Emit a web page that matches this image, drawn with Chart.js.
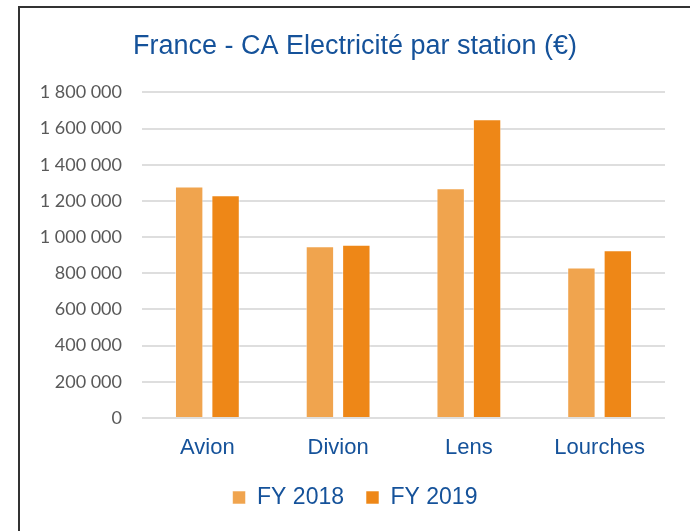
<!DOCTYPE html>
<html>
<head>
<meta charset="utf-8">
<script src="https://cdn.jsdelivr.net/npm/chart.js@4"></script>
<style>
  html,body{margin:0;padding:0;background:#fff;}
  body{width:690px;height:531px;overflow:hidden;position:relative;}
  #frame{position:absolute;left:18px;top:6px;width:700px;height:560px;border-left:2px solid #333;border-top:2px solid #333;}
  #wrap{position:absolute;left:20px;top:8px;width:670px;height:523px;}
</style>
</head>
<body>
<div id="frame"></div>
<div id="wrap"><canvas id="c"></canvas></div>
<script>
// values
const stations = ['Avion','Divion','Lens','Lourches'];
const fy2018 = [1280000, 950000, 1270000, 832000];
const fy2019 = [1232000, 958000, 1652000, 928000];
const yTicks = [0,200000,400000,600000,800000,1000000,1200000,1400000,1600000,1800000];

const blue = '#15529a';
function fmt(v){ return String(v).replace(/\B(?=(\d{3})+(?!\d))/g,' '); }

new Chart(document.getElementById('c'), {
  type:'bar',
  data:{
    labels:stations,
    datasets:[
      {label:'FY 2018', data:fy2018, backgroundColor:'#f0a44e', borderColor:'rgba(255,255,255,0.55)', borderWidth:1},
      {label:'FY 2019', data:fy2019, backgroundColor:'#ee8717', borderColor:'rgba(255,255,255,0.55)', borderWidth:1}
    ]
  },
  options:{
    responsive:true,
    maintainAspectRatio:false,
    animation:false,
    layout:{padding:{left:0,right:0,top:0,bottom:12}},
    datasets:{bar:{categoryPercentage:0.557, barPercentage:0.78}},
    scales:{
      x:{
        grid:{display:false},
        border:{display:false},
        ticks:{color:blue, font:{family:'Liberation Sans', size:22}, padding:9},
        afterFit(s){ s.height = 46; }
      },
      y:{
        min:0, max:1800000,
        afterBuildTicks(s){ s.ticks = yTicks.map(v=>({value:v})); },
        grid:{color:'#dedede', lineWidth:2, drawTicks:false},
        border:{display:false},
        ticks:{color:'#595959', font:{family:'Lato', size:18}, padding:20, callback:v=>fmt(v)},
        afterFit(s){ s.width = 122; }
      },
      // empty right gutter so the title stays where it is in the original
      yRight:{
        type:'linear', position:'right', axis:'y',
        grid:{display:false}, border:{display:false}, ticks:{display:false},
        afterFit(s){ s.width = 25; }
      }
    },
    plugins:{
      title:{display:true, text:'France - CA Electricité par station (€)', color:blue,
        font:{family:'Liberation Sans', size:27, weight:'normal'}, padding:{top:22,bottom:30}},
      legend:{position:'bottom',
        labels:{color:blue, font:{family:'Liberation Sans', size:23}, boxWidth:13, boxHeight:13, padding:22}},
      tooltip:{enabled:false}
    }
  }
});
</script>
</body>
</html>
